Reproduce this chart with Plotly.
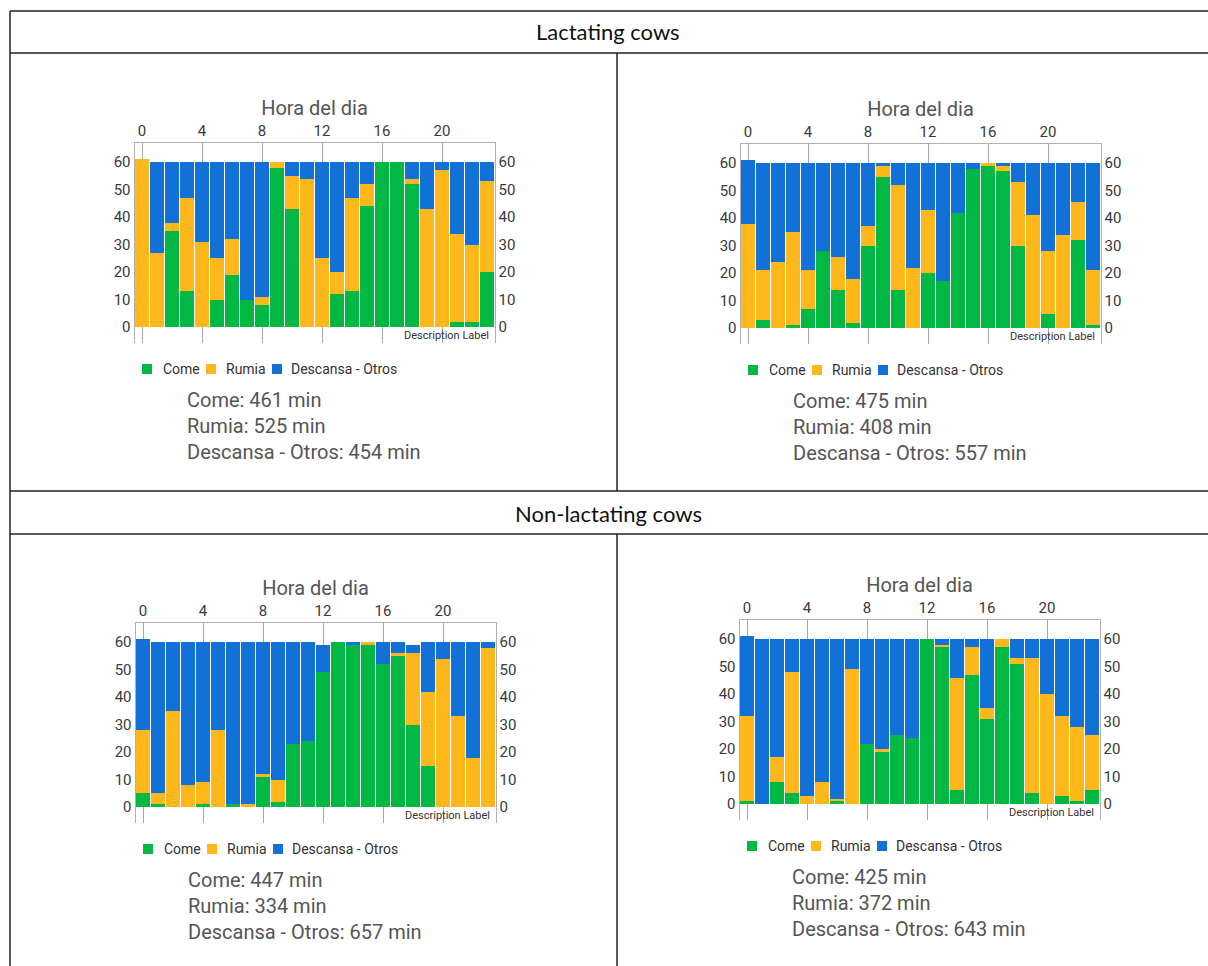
import plotly.graph_objects as go

W, H = 1208, 966

hours = list(range(24))
series_names = ["Come", "Rumia", "Descansa - Otros"]
colors = ["#00B843", "#FFB81C", "#1271D6"]

# Lactating cows - left
lac1_come = [0, 0, 35, 13, 0, 10, 19, 10, 8, 58, 43, 0, 0, 12, 13, 44, 60, 60, 52, 0, 0, 2, 2, 20]
lac1_rumia = [61, 27, 3, 34, 31, 15, 13, 0, 3, 2, 12, 54, 25, 8, 34, 8, 0, 0, 2, 43, 57, 32, 28, 33]
lac1_desc = [0, 33, 22, 13, 29, 35, 28, 50, 49, 0, 5, 6, 35, 40, 13, 8, 0, 0, 6, 17, 3, 26, 30, 7]
# Lactating cows - right
lac2_come = [0, 3, 0, 1, 7, 28, 14, 2, 30, 55, 14, 0, 20, 17, 42, 58, 59, 57, 30, 0, 5, 0, 32, 1]
lac2_rumia = [38, 18, 24, 34, 14, 0, 12, 16, 7, 4, 38, 22, 23, 0, 0, 0, 1, 2, 23, 41, 23, 34, 14, 20]
lac2_desc = [23, 39, 36, 25, 39, 32, 34, 42, 23, 1, 8, 38, 17, 43, 18, 2, 0, 1, 7, 19, 32, 26, 14, 39]
# Non-lactating cows - left
non1_come = [5, 1, 0, 0, 1, 0, 1, 0, 11, 2, 23, 24, 49, 60, 59, 59, 52, 55, 30, 15, 0, 0, 0, 0]
non1_rumia = [23, 4, 35, 8, 8, 28, 0, 1, 1, 8, 0, 0, 0, 0, 0, 1, 0, 1, 26, 27, 54, 33, 18, 58]
non1_desc = [33, 55, 25, 52, 51, 32, 59, 59, 48, 50, 37, 36, 10, 0, 1, 0, 8, 4, 3, 18, 6, 27, 42, 2]
# Non-lactating cows - right
non2_come = [1, 0, 8, 4, 0, 0, 1, 0, 22, 19, 25, 24, 60, 57, 5, 47, 31, 57, 51, 4, 0, 3, 1, 5]
non2_rumia = [31, 0, 9, 44, 3, 8, 1, 49, 0, 1, 0, 0, 0, 1, 41, 10, 4, 3, 2, 49, 40, 29, 27, 20]
non2_desc = [29, 60, 43, 12, 57, 52, 58, 11, 38, 40, 35, 36, 0, 2, 14, 3, 25, 0, 7, 7, 20, 28, 32, 35]

totals = [
    (461, 525, 454),
    (475, 408, 557),
    (447, 334, 657),
    (425, 372, 643),
]
section_titles = ["Lactating cows", "Non-lactating cows"]

charts = [
    (lac1_come, lac1_rumia, lac1_desc),
    (lac2_come, lac2_rumia, lac2_desc),
    (non1_come, non1_rumia, non1_desc),
    (non2_come, non2_rumia, non2_desc),
]

# pixel geometry (left, top) of each plot area, 360x200 px
boxes = [(134.5, 143), (740.5, 144), (135.5, 623), (739.5, 620)]
PW, PH = 360, 200
YR = [-5.82, 66.91]

# legend layout offsets (px from plot left): square start, text start
leg_sq = [7.5, 71.5, 137.5]
leg_tx = [26.5, 89.5, 154.5]

def px(x):
    return x / W

def py(y):
    return 1 - y / H

fig = go.Figure()
layout = dict(
    width=W, height=H,
    margin=dict(l=0, r=0, t=0, b=0),
    paper_bgcolor="white", plot_bgcolor="white",
    barmode="stack", bargap=0.12, showlegend=False,
    font=dict(family="Roboto", color="#444"),
)

annotations = []
shapes = []

for i, (data, (bx, by)) in enumerate(zip(charts, boxes)):
    n = i + 1
    xa = "x" if n == 1 else f"x{n}"
    ya = "y" if n == 1 else f"y{n}"
    yr = f"y{n + 4}"
    for name, vals, col in zip(series_names, data, colors):
        fig.add_trace(go.Bar(
            x=hours, y=vals, name=name, marker=dict(color=col, line=dict(width=0)),
            xaxis=xa, yaxis=ya,
        ))
    # helper trace for right axis
    fig.add_trace(go.Scatter(x=[None], y=[None], xaxis=xa, yaxis=yr,
                             showlegend=False, hoverinfo="skip"))

    xdom = [px(bx), px(bx + PW)]
    ydom = [py(by + PH), py(by)]
    layout[f"xaxis{'' if n == 1 else n}"] = dict(
        domain=xdom, anchor=ya, side="top", range=[-0.5, 23.5],
        tickvals=[0, 4, 8, 12, 16, 20], showgrid=True, gridcolor="#a6a6a6",
        gridwidth=1, zeroline=False, showline=True, linecolor="#b0b0b0",
        linewidth=1, ticks="", tickfont=dict(size=15, color="#3a3a3a"),
        title=dict(text="Hora del dia", font=dict(size=20, color="#555"), standoff=1),
        fixedrange=True,
    )
    layout[f"yaxis{'' if n == 1 else n}"] = dict(
        domain=ydom, anchor=xa, range=YR, tickvals=[0, 10, 20, 30, 40, 50, 60],
        showgrid=False, zeroline=False, showline=True, linecolor="#b0b0b0",
        linewidth=1, ticks="", tickfont=dict(size=15, color="#3a3a3a"),
        fixedrange=True,
    )
    layout[f"yaxis{n + 4}"] = dict(
        overlaying=ya, anchor=xa, side="right", range=YR,
        tickvals=[0, 10, 20, 30, 40, 50, 60],
        showgrid=False, zeroline=False, showline=True, linecolor="#b0b0b0",
        linewidth=1, ticks="", tickfont=dict(size=15, color="#3a3a3a"),
        fixedrange=True,
    )
    # legend (swatches + labels)
    ly = by + PH + 26
    for name, col, sq, tx in zip(series_names, colors, leg_sq, leg_tx):
        shapes.append(dict(type="rect", xref="paper", yref="paper",
                           x0=px(bx + sq), x1=px(bx + sq + 10),
                           y0=py(ly + 5), y1=py(ly - 5),
                           fillcolor=col, line=dict(width=0)))
        annotations.append(dict(xref="paper", yref="paper", x=px(bx + tx), y=py(ly),
                                xanchor="left", yanchor="middle", text=name,
                                showarrow=False, font=dict(size=14, color="#333")))
    annotations.append(dict(
        xref=f"{xa} domain", yref=ya, x=0.99, y=-3, xanchor="right",
        yanchor="middle", text="Description Label", showarrow=False,
        font=dict(size=11, color="#333"),
    ))
    c, r, d = totals[i]
    annotations.append(dict(
        xref="paper", yref="paper", x=px(bx + 50), y=py(by + PH + 43),
        xanchor="left", yanchor="top", align="left", showarrow=False,
        text=f"Come: {c} min<br>Rumia: {r} min<br>Descansa - Otros: {d} min",
        font=dict(size=20, color="#555"),
    ))

# table headers
annotations.append(dict(xref="paper", yref="paper", x=px(608), y=py(32),
                        xanchor="center", yanchor="middle",
                        text=section_titles[0], showarrow=False,
                        font=dict(family="Lato", size=22, color="#111")))
annotations.append(dict(xref="paper", yref="paper", x=px(608), y=py(513),
                        xanchor="center", yanchor="middle",
                        text=section_titles[1], showarrow=False,
                        font=dict(family="Lato", size=22, color="#111")))

# table rules
def hline(y):
    shapes.append(dict(type="line", xref="paper", yref="paper",
                       x0=px(10), x1=1, y0=py(y), y1=py(y),
                       line=dict(color="#222", width=1.5)))

def vline(x, y0, y1):
    shapes.append(dict(type="line", xref="paper", yref="paper",
                       x0=px(x), x1=px(x), y0=py(y0), y1=py(y1),
                       line=dict(color="#222", width=1.5)))

for yy in [11, 53, 491, 534]:
    hline(yy)
vline(10, 11, H)
vline(617, 53, 491)
vline(617, 534, H)

layout["annotations"] = annotations
layout["shapes"] = shapes
fig.update_layout(**layout)

fig.write_html("out.html")
